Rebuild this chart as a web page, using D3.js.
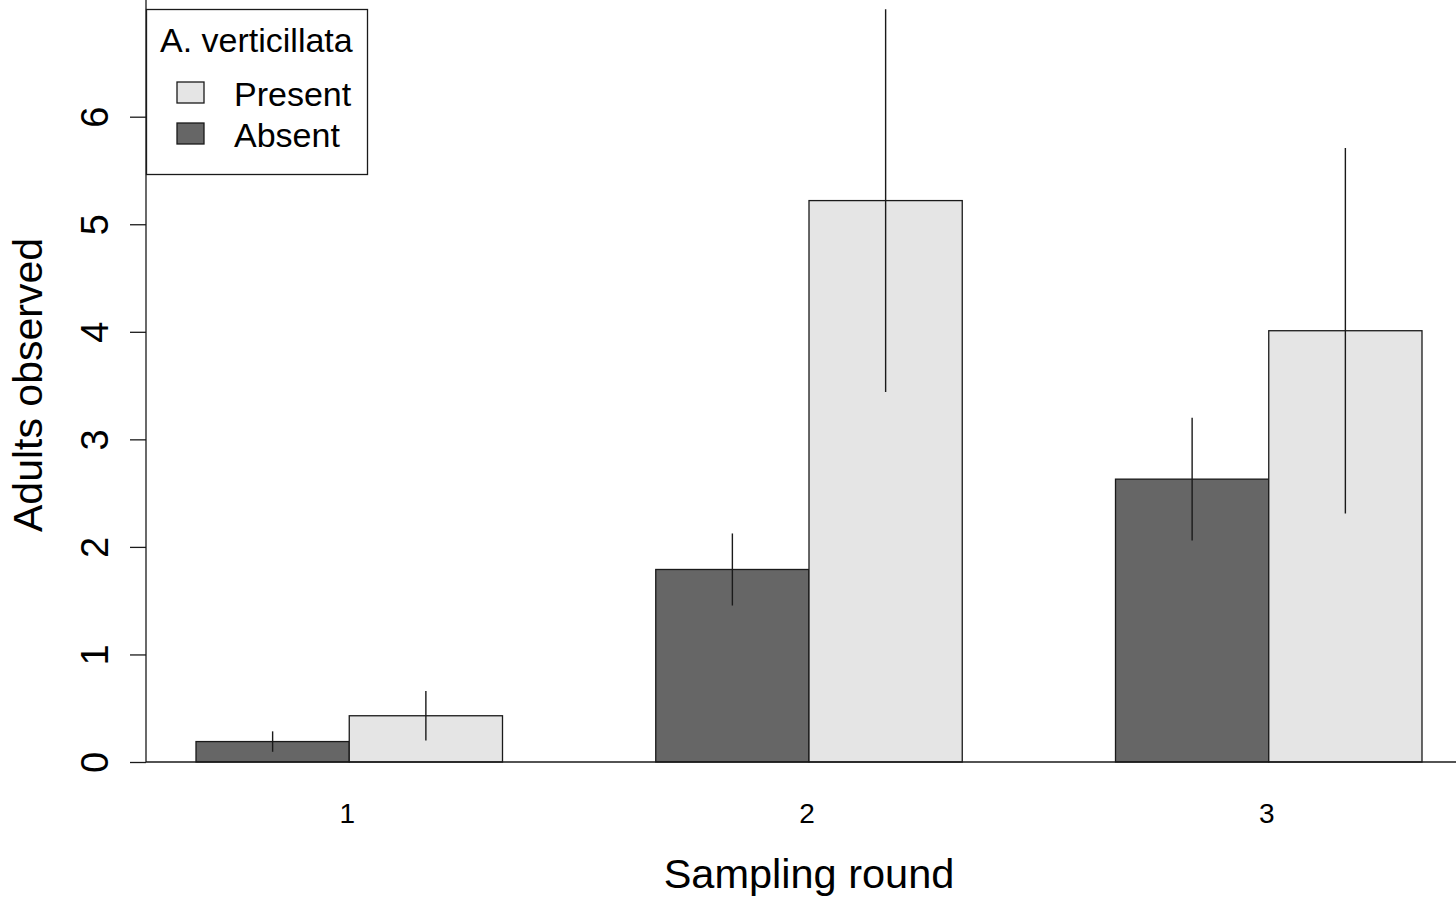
<!DOCTYPE html>
<html>
<head>
<meta charset="utf-8">
<script src="https://cdn.jsdelivr.net/npm/d3@7"></script>
<style>
  html, body { margin: 0; padding: 0; background: #fff; }
  svg { display: block; font-family: "Liberation Sans", Arial, sans-serif; }
</style>
</head>
<body>
<svg id="chart" width="1456" height="900"></svg>
<script>
// Sampling rounds and the two A. verticillata treatments
const rounds = ["1", "2", "3"];
const treatments = ["Absent", "Present"];
const legendOrder = ["Present", "Absent"];

// Mean adults observed per round (one value per round)
const absentMeans = [0.19, 1.79, 2.63];
const presentMeans = [0.43, 5.22, 4.01];

// Half-width of the error bars (standard error)
const absentErr = [0.095, 0.335, 0.57];
const presentErr = [0.23, 1.78, 1.70];

const yTicks = [0, 1, 2, 3, 4, 5, 6];

const fills = { Absent: "#666666", Present: "#e5e5e5" };

const svg = d3.select("#chart");

const y = d3.scaleLinear().domain([0, 7]).range([762, 9.15]);

const x = d3.scaleBand()
  .domain(rounds)
  .range([196, 1422])
  .paddingInner(1 / 3)
  .paddingOuter(0);

const xs = d3.scaleBand()
  .domain(treatments)
  .range([0, x.bandwidth()]);

const rows = [];
rounds.forEach((r, i) => {
  rows.push({ round: r, treatment: "Absent", mean: absentMeans[i], err: absentErr[i] });
  rows.push({ round: r, treatment: "Present", mean: presentMeans[i], err: presentErr[i] });
});

// Bars
svg.append("g")
  .selectAll("rect")
  .data(rows)
  .join("rect")
  .attr("x", d => x(d.round) + xs(d.treatment))
  .attr("y", d => y(d.mean))
  .attr("width", xs.bandwidth())
  .attr("height", d => y(0) - y(d.mean))
  .attr("fill", d => fills[d.treatment])
  .attr("stroke", "#1a1a1a")
  .attr("stroke-width", 1.3);

// Error bars
svg.append("g")
  .selectAll("line")
  .data(rows)
  .join("line")
  .attr("x1", d => x(d.round) + xs(d.treatment) + xs.bandwidth() / 2)
  .attr("x2", d => x(d.round) + xs(d.treatment) + xs.bandwidth() / 2)
  .attr("y1", d => y(d.mean + d.err))
  .attr("y2", d => y(d.mean - d.err))
  .attr("stroke", "#1a1a1a")
  .attr("stroke-width", 1.4);

// Baseline along zero
svg.append("line")
  .attr("x1", 146).attr("x2", 1456)
  .attr("y1", y(0)).attr("y2", y(0))
  .attr("stroke", "#1a1a1a").attr("stroke-width", 1.3);

// Y axis
const yAxis = d3.axisLeft(y).tickValues(yTicks).tickSize(16).tickPadding(0).tickFormat(d3.format("d"));
const gy = svg.append("g").attr("transform", "translate(146,0)").call(yAxis);
gy.select(".domain").remove();
gy.selectAll(".tick line").attr("stroke", "#1a1a1a").attr("stroke-width", 1.3);
gy.selectAll(".tick text")
  .attr("x", 0).attr("dy", null)
  .attr("transform", "translate(-38,0) rotate(-90)")
  .attr("text-anchor", "middle")
  .attr("dominant-baseline", "auto")
  .attr("font-size", 38)
  .attr("font-family", "Liberation Sans, Arial, sans-serif")
  .attr("fill", "#000");
svg.append("line")
  .attr("x1", 146).attr("x2", 146)
  .attr("y1", 0).attr("y2", y(0))
  .attr("stroke", "#1a1a1a").attr("stroke-width", 1.3);

// X labels (round numbers)
const xAxis = d3.axisBottom(x).tickSize(0).tickPadding(0);
const gx = svg.append("g").attr("transform", `translate(-2,${y(0)})`).call(xAxis);
gx.select(".domain").remove();
gx.selectAll(".tick text")
  .attr("y", 61).attr("dy", null)
  .attr("font-size", 28)
  .attr("font-family", "Liberation Sans, Arial, sans-serif")
  .attr("fill", "#000");

// Axis titles
svg.append("text")
  .attr("x", 809).attr("y", 888)
  .attr("text-anchor", "middle")
  .attr("font-size", 41.5)
  .text("Sampling round");

svg.append("text")
  .attr("transform", "translate(42,385) rotate(-90)")
  .attr("text-anchor", "middle")
  .attr("font-size", 41)
  .text("Adults observed");

// Legend
const lg = svg.append("g");
lg.append("rect")
  .attr("x", 146.5).attr("y", 9.5).attr("width", 221).attr("height", 165)
  .attr("fill", "#fff").attr("stroke", "#1a1a1a").attr("stroke-width", 1.3);
lg.append("text")
  .attr("x", 160).attr("y", 52)
  .attr("font-size", 34)
  .text("A. verticillata");
const items = lg.selectAll("g.item")
  .data(legendOrder)
  .join("g")
  .attr("class", "item")
  .attr("transform", (d, i) => `translate(0,${i * 41})`);
items.append("rect")
  .attr("x", 177).attr("y", 82).attr("width", 27).attr("height", 21)
  .attr("fill", d => fills[d]).attr("stroke", "#1a1a1a").attr("stroke-width", 1.3);
items.append("text")
  .attr("x", 234).attr("y", 106)
  .attr("font-size", 34)
  .text(d => d);
</script>
</body>
</html>
